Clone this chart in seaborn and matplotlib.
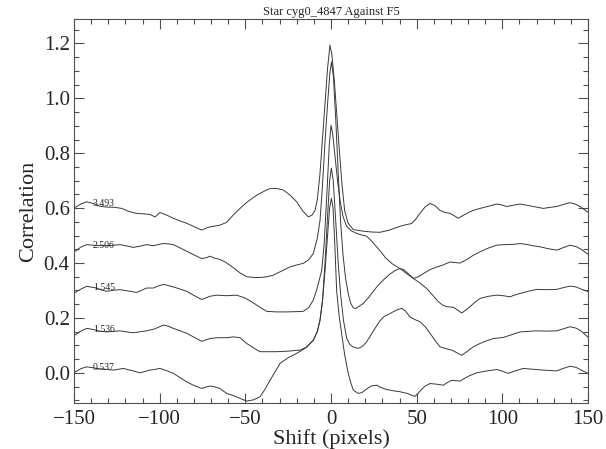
import numpy as np
import pandas as pd
import matplotlib
matplotlib.use("Agg")
import matplotlib.pyplot as plt
from matplotlib.ticker import MultipleLocator
import seaborn as sns

title = "Star cyg0_4847 Against F5"
xlabel = "Shift (pixels)"
ylabel = "Correlation"
labels = ["3.493", "2.506", "1.545", "1.536", "0.537"]

x_3493 = [-150, -146, -142.6, -138.7, -135, -131, -126, -122.2, -118, -113.4, -109, -105.6, -102.7, -99.8, -96, -92, -88, -84.2, -80, -75.5, -72.5, -70.6, -66.7, -64.8, -61, -57, -53.1, -49, -43.4, -38, -35, -31.7, -27.8, -24, -20, -16.5, -13.2, -11, -9.3,
          -8, -6.5, -5, -3.5, -2, -0.6, 0.5, 2, 3.5, 5, 6.5, 8, 10, 13, 18.9, 24, 28.6, 34, 40.3, 44, 47.1, 49.5, 51.9, 55, 57.8, 60.5, 63.6, 66.5, 69.5, 72, 74.3, 77.5, 81.1, 84, 87, 92, 96.7, 99.5, 102.5, 106, 110.3, 114, 118.1, 123.9, 128, 131.7, 136, 139.5, 142.5, 145.3, 150]
y_3493 = [0.600, 0.615, 0.623, 0.617, 0.607, 0.604, 0.603, 0.599, 0.588, 0.581, 0.579, 0.577, 0.568, 0.584, 0.575, 0.563, 0.553, 0.545, 0.533, 0.520, 0.528, 0.532, 0.536, 0.538, 0.548, 0.575, 0.599, 0.622, 0.647, 0.665, 0.672, 0.672, 0.666, 0.648, 0.623, 0.590, 0.568, 0.575, 0.592,
          0.630, 0.720, 0.850, 0.980, 1.110, 1.194, 1.160, 1.060, 0.930, 0.800, 0.680, 0.590, 0.545, 0.522, 0.516, 0.513, 0.512, 0.520, 0.534, 0.540, 0.544, 0.560, 0.581, 0.605, 0.617, 0.610, 0.592, 0.584, 0.581, 0.572, 0.563, 0.575, 0.587, 0.594, 0.599, 0.607, 0.615, 0.612, 0.606, 0.610, 0.615, 0.611, 0.606, 0.599, 0.603, 0.606, 0.614, 0.620, 0.615, 0.606, 0.585]

x_2506 = [-150, -146, -142.6, -137, -131, -127, -123.2, -119, -115.4, -111, -107.6, -103.7, -100.5, -97.9, -95, -92, -88, -84.2, -80, -75.5, -72.5, -70.6, -68, -64.8, -61.5, -57, -53.1, -49.2, -44, -40, -37.5, -34, -31.7, -27.5, -23.9, -20, -16.2, -13, -10.3,
          -8, -6.4, -5, -3.5, -2, -0.7, 0.3, 1.4, 2.8, 4.2, 5.6, 7, 8.5, 10, 11.5, 13, 14.5, 16.5, 18.9, 22, 24.5, 26.7, 30, 34.4, 37.5, 40.3, 42.5, 45, 48.1, 51, 54, 57.8, 61, 65, 69.5, 72, 75.3, 79, 83, 87, 92, 96.7, 101, 106.4, 110.3, 114, 118, 122, 127, 131.7, 135.5, 139.5, 143, 146, 150]
y_2506 = [0.440, 0.458, 0.467, 0.464, 0.463, 0.465, 0.467, 0.462, 0.457, 0.462, 0.467, 0.463, 0.468, 0.471, 0.470, 0.467, 0.455, 0.443, 0.430, 0.416, 0.420, 0.425, 0.418, 0.413, 0.403, 0.383, 0.364, 0.350, 0.347, 0.348, 0.350, 0.355, 0.362, 0.375, 0.386, 0.393, 0.399, 0.412, 0.435,
          0.490, 0.556, 0.680, 0.840, 0.980, 1.090, 1.133, 1.080, 0.920, 0.730, 0.550, 0.430, 0.345, 0.290, 0.253, 0.237, 0.234, 0.243, 0.253, 0.275, 0.295, 0.313, 0.335, 0.360, 0.373, 0.380, 0.376, 0.362, 0.344, 0.350, 0.362, 0.376, 0.384, 0.392, 0.404, 0.402, 0.400, 0.412, 0.428, 0.441, 0.455, 0.465, 0.467, 0.468, 0.471, 0.468, 0.463, 0.459, 0.452, 0.447, 0.456, 0.465, 0.460, 0.450, 0.432]

x_1545 = [-150, -146, -142.6, -139.5, -136.8, -134, -131, -127, -123.2, -118, -113.4, -110, -107.6, -103.7, -101, -97.9, -95, -92, -88, -84.2, -80, -75.5, -73, -70.6, -66.7, -60.9, -55, -50, -45.3, -41, -37.5, -32, -25.8, -20, -16.2, -13, -10.3,
          -8, -5.4, -4, -2.5, -1, 0, 1, 2.5, 4, 5.5, 7, 9.1, 12, 15, 18, 20.8, 24, 26.5, 28.6, 32, 36, 40.3, 44, 48.1, 52, 55.9, 59, 62.7, 65, 67.5, 71.4, 74, 76.3, 78.5, 81.1, 84, 87, 92, 96.7, 100.5, 104.5, 107, 110.3, 115, 120, 126, 131.7, 136, 139.5, 143, 146, 150]
y_1545 = [0.290, 0.305, 0.315, 0.312, 0.309, 0.302, 0.297, 0.301, 0.303, 0.298, 0.293, 0.302, 0.309, 0.309, 0.316, 0.322, 0.318, 0.313, 0.305, 0.297, 0.282, 0.267, 0.273, 0.279, 0.283, 0.281, 0.283, 0.272, 0.255, 0.237, 0.224, 0.222, 0.222, 0.223, 0.224, 0.238, 0.265,
          0.310, 0.374, 0.470, 0.640, 0.830, 0.902, 0.870, 0.780, 0.690, 0.620, 0.570, 0.534, 0.517, 0.508, 0.502, 0.498, 0.478, 0.460, 0.445, 0.418, 0.396, 0.380, 0.362, 0.344, 0.327, 0.307, 0.285, 0.259, 0.247, 0.241, 0.239, 0.228, 0.218, 0.228, 0.241, 0.257, 0.271, 0.279, 0.283, 0.281, 0.277, 0.283, 0.289, 0.297, 0.304, 0.303, 0.304, 0.311, 0.316, 0.313, 0.305, 0.296]

x_1536 = [-150, -146, -142.6, -138, -135, -131, -127, -123.2, -119, -115.4, -111, -107.6, -103, -100, -97.9, -95, -92, -88, -84.2, -80, -75.5, -73, -70.6, -66, -60.9, -57, -53.1, -49.2, -45, -41.4, -36, -31.7, -25, -17.9, -14, -10.3,
          -8, -6.4, -5, -3.5, -2, -0.8, 0.2, 1.3, 2.7, 4.2, 5.7, 7.3, 9.2, 11, 13, 15.9, 18, 20.5, 23, 26, 28.6, 31, 34.4, 38, 41.3, 43.5, 46.1, 49, 51.9, 55, 57.8, 61, 63.6, 67, 70.5, 73.5, 76.3, 79.5, 83.1, 87, 90, 94.8, 100.6, 105, 110.3, 115, 120, 126, 131.7, 136, 139.5, 143, 146, 150]
y_1536 = [0.135, 0.152, 0.162, 0.157, 0.152, 0.149, 0.151, 0.153, 0.149, 0.146, 0.150, 0.153, 0.160, 0.168, 0.174, 0.170, 0.162, 0.153, 0.144, 0.130, 0.115, 0.120, 0.125, 0.128, 0.128, 0.131, 0.128, 0.107, 0.090, 0.077, 0.077, 0.077, 0.079, 0.083, 0.095, 0.119,
          0.150, 0.192, 0.260, 0.400, 0.570, 0.700, 0.746, 0.700, 0.560, 0.400, 0.280, 0.190, 0.125, 0.103, 0.094, 0.089, 0.095, 0.110, 0.135, 0.165, 0.190, 0.205, 0.216, 0.228, 0.235, 0.225, 0.204, 0.194, 0.186, 0.168, 0.144, 0.116, 0.095, 0.088, 0.083, 0.073, 0.064, 0.078, 0.095, 0.107, 0.115, 0.125, 0.129, 0.138, 0.149, 0.151, 0.153, 0.152, 0.153, 0.161, 0.168, 0.163, 0.152, 0.130]

x_0537 = [-150, -146, -142.6, -139.5, -136.8, -132, -127, -124, -121.2, -116, -111.5, -108, -105.6, -102.5, -99.8, -96, -92, -88, -84.2, -80, -75.5, -73, -70.6, -68, -64.8, -60.9, -57, -53.1, -49.2, -45, -41.4, -38.5, -35.6, -32.5, -29.8, -25, -20, -15, -10.3,
          -8, -6.4, -5, -3.5, -2, -0.8, 0.2, 1.2, 2.2, 3.3, 4.7, 6.2, 8, 10, 11.5, 13, 15.9, 18, 20.5, 23.5, 26.9, 28.6, 32, 36, 40.3, 44.5, 49, 51.5, 54.5, 57.8, 61.2, 65.6, 68, 70.5, 75.3, 78, 81, 85, 90, 96.7, 100, 103.4, 108, 112.2, 118, 123.9, 131.7, 136, 139.5, 143, 146, 150]
y_0537 = [0.000, 0.015, 0.022, 0.019, 0.016, 0.013, 0.010, 0.013, 0.016, 0.008, 0.000, 0.006, 0.010, 0.013, 0.016, 0.008, -0.002, -0.018, -0.033, -0.046, -0.057, -0.052, -0.048, -0.051, -0.057, -0.075, -0.083, -0.093, -0.103, -0.098, -0.087, -0.060, -0.027, 0.005, 0.034, 0.055, 0.071, 0.090, 0.119,
          0.150, 0.192, 0.260, 0.370, 0.500, 0.600, 0.636, 0.600, 0.470, 0.300, 0.210, 0.143, 0.065, 0.000, -0.035, -0.063, -0.075, -0.072, -0.060, -0.048, -0.045, -0.052, -0.060, -0.065, -0.069, -0.075, -0.086, -0.070, -0.050, -0.039, -0.041, -0.045, -0.035, -0.027, -0.030, -0.020, -0.010, 0.000, 0.006, 0.012, 0.006, -0.002, 0.008, 0.016, 0.013, 0.010, 0.007, 0.017, 0.024, 0.020, 0.010, -0.002]

curves = [(x_3493, y_3493), (x_2506, y_2506), (x_1545, y_1545), (x_1536, y_1536), (x_0537, y_0537)]
label_x = -139

sns.set_style("white")
plt.rcParams['font.family'] = ['Liberation Serif', 'DejaVu Serif']

fig = plt.figure(figsize=(6.06, 4.49), dpi=100)
ax = fig.add_axes([0.1221, 0.1024, 0.8482, 0.8552])

line_color = '#383838'
for (xs, ys), lab in zip(curves, labels):
    df = pd.DataFrame({"shift": xs, "corr": ys})
    sns.lineplot(data=df, x="shift", y="corr", ax=ax, color=line_color,
                 linewidth=0.7, estimator=None, sort=False)
    yl = float(np.interp(label_x, xs, ys))
    ax.text(label_x, yl, lab, fontsize=7, va='center', ha='left', color='#222222')

ax.set_xlim(-150, 150)
ax.set_ylim(-0.11, 1.289)
ax.set_xticks([-150, -100, -50, 0, 50, 100, 150])
ax.set_yticks([0.0, 0.2, 0.4, 0.6, 0.8, 1.0, 1.2])
ax.set_yticklabels(["0.0", "0.2", "0.4", "0.6", "0.8", "1.0", "1.2"])
ax.xaxis.set_minor_locator(MultipleLocator(10))
ax.yaxis.set_minor_locator(MultipleLocator(0.05))
ax.tick_params(which='both', direction='in', top=True, right=True,
               bottom=True, left=True, color='#505050', width=0.8)
ax.tick_params(which='major', length=7, labelsize=15)
ax.tick_params(which='minor', length=3.6)
ax.tick_params(axis='x', which='major', pad=5)
ax.tick_params(axis='y', which='major', pad=3)
for s in ax.spines.values():
    s.set_color('#505050')
    s.set_linewidth(0.8)
    s.set_visible(True)

ax.set_xlabel(xlabel, fontsize=16, labelpad=0)
ax.set_ylabel(ylabel, fontsize=16, labelpad=4)
ax.set_title(title, fontsize=9, pad=3)

fig.savefig("out.png", dpi=100)
